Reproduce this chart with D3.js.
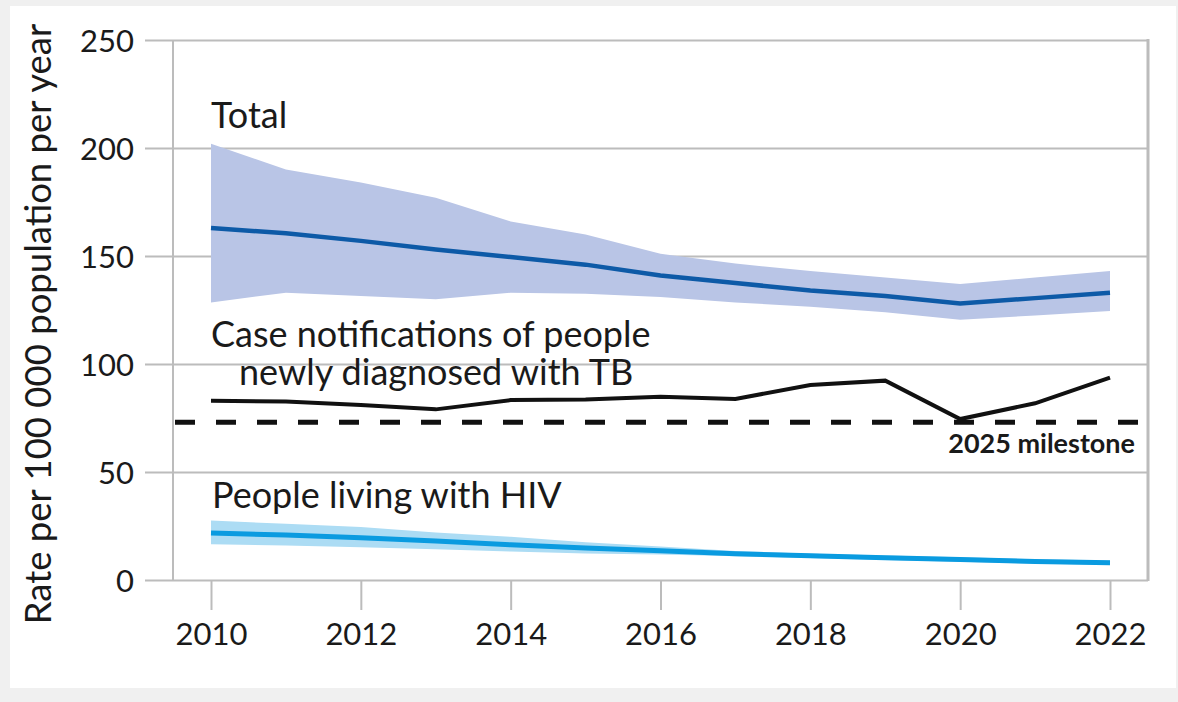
<!DOCTYPE html>
<html>
<head>
<meta charset="utf-8">
<script src="https://cdn.jsdelivr.net/npm/d3@7"></script>
<style>
  body { margin: 0; background: #f0f0f0; }
  svg { display: block; font-family: Lato, "Noto Sans", sans-serif; }
</style>
</head>
<body>
<div id="chart"></div>
<script>
// data
var years = [2010, 2011, 2012, 2013, 2014, 2015, 2016, 2017, 2018, 2019, 2020, 2021, 2022];
var totalMid = [163, 160.5, 157, 153, 149.5, 146, 141, 137.5, 134, 131.5, 128, 130.5, 133];
var totalLo = [128.5, 133, 131.5, 130, 133, 132.5, 131, 128.5, 126.5, 124, 120.5, 122.5, 124.5];
var totalHi = [202, 190, 184, 177, 166, 160, 151, 146.5, 143, 140, 137, 140, 143];
var notified = [83, 82.6, 81, 79, 83.3, 83.6, 84.8, 83.8, 90.3, 92.3, 74.5, 81.8, 93.7];
var hivMid = [21.8, 20.8, 19.6, 18, 16.3, 14.8, 13.5, 12.2, 11.2, 10.3, 9.5, 8.6, 8];
var hivLo = [16.5, 16, 15.2, 14.2, 13.2, 12.3, 11.8, 11, 10.2, 9.3, 8.5, 7.6, 7];
var hivHi = [27.5, 26, 24.5, 22, 20, 17.5, 15.5, 13.4, 12.2, 11.3, 10.5, 9.6, 9];
var milestone = 73;
var yTicks = [0, 50, 100, 150, 200, 250];
var xTicks = [2010, 2012, 2014, 2016, 2018, 2020, 2022];

var W = 1178, H = 702;
var svg = d3.select("#chart").append("svg")
    .attr("width", W)
    .attr("height", H);

// white panel
svg.append("rect")
    .attr("x", 10).attr("y", 6)
    .attr("width", 1166).attr("height", 682)
    .attr("fill", "#fff");

var x = d3.scaleLinear().domain([2010, 2022]).range([211, 1110]);
var y = d3.scaleLinear().domain([0, 250]).range([580, 40]);
var left = 173, right = 1148;
var gridColor = "#bcbcbc";

// horizontal grid + y ticks
var yAxis = d3.axisLeft(y).tickValues(yTicks).tickSize(right - 145);
var gy = svg.append("g").attr("transform", "translate(" + right + ",0)").call(yAxis)
    .attr("font-family", null);
gy.select(".domain").remove();
gy.selectAll(".tick line").attr("stroke", gridColor).attr("stroke-width", 2);
gy.selectAll(".tick text").attr("font-size", 31).attr("fill", "#1a1a1a")
    .attr("x", -(right - 134)).attr("dy", "0.36em");

// frame
svg.append("line").attr("x1", left).attr("x2", left).attr("y1", y(250)).attr("y2", y(0))
    .attr("stroke", gridColor).attr("stroke-width", 2);
svg.append("line").attr("x1", right).attr("x2", right).attr("y1", y(250) - 1).attr("y2", y(0) + 1)
    .attr("stroke", gridColor).attr("stroke-width", 3);

// x axis ticks
var xAxis = d3.axisBottom(x).tickValues(xTicks).tickFormat(d3.format("d")).tickSize(30).tickPadding(13);
var gx = svg.append("g").attr("transform", "translate(0," + y(0) + ")").call(xAxis)
    .attr("font-family", null);
gx.select(".domain").remove();
gx.selectAll(".tick line").attr("stroke", gridColor).attr("stroke-width", 2);
gx.selectAll(".tick text").attr("font-size", 31).attr("fill", "#1a1a1a");

// y title
svg.append("text")
    .attr("transform", "translate(51," + 324 + ") rotate(-90)")
    .attr("text-anchor", "middle")
    .attr("font-size", 36.5)
    .attr("fill", "#1a1a1a")
    .text("Rate per 100 000 population per year");

var idx = d3.range(years.length);

// bands
var band = function (lo, hi) {
  return d3.area().x(function (i) { return x(years[i]); })
    .y0(function (i) { return y(lo[i]); })
    .y1(function (i) { return y(hi[i]); });
};
svg.append("path").datum(idx).attr("d", band(totalLo, totalHi)).attr("fill", "#b9c5e6");
svg.append("path").datum(idx).attr("d", band(hivLo, hivHi)).attr("fill", "#acdcf4");

var line = function (vals) {
  return d3.line().x(function (i) { return x(years[i]); }).y(function (i) { return y(vals[i]); });
};

// milestone
svg.append("line")
    .attr("x1", left + 2).attr("x2", 1138)
    .attr("y1", y(milestone)).attr("y2", y(milestone))
    .attr("stroke", "#111").attr("stroke-width", 5)
    .attr("stroke-dasharray", "20,21");

svg.append("path").datum(idx).attr("d", line(totalMid))
    .attr("fill", "none").attr("stroke", "#0d5aa7").attr("stroke-width", 4.5);
svg.append("path").datum(idx).attr("d", line(notified))
    .attr("fill", "none").attr("stroke", "#111").attr("stroke-width", 4);
svg.append("path").datum(idx).attr("d", line(hivMid))
    .attr("fill", "none").attr("stroke", "#0a9be0").attr("stroke-width", 5);

// labels
var lab = function (tx, ty, s, opts) {
  var t = svg.append("text").attr("x", tx).attr("y", ty).attr("font-size", 36)
      .attr("fill", "#1a1a1a").text(s);
  if (opts) { for (var k in opts) t.attr(k, opts[k]); }
  return t;
};
lab(211, 128, "Total");
lab(211, 347, "Case notifications of people");
lab(239, 385, "newly diagnosed with TB");
lab(212, 508, "People living with HIV");
lab(1135, 453, "2025 milestone", {"font-size": 27, "font-weight": "bold", "text-anchor": "end"});
</script>
</body>
</html>
